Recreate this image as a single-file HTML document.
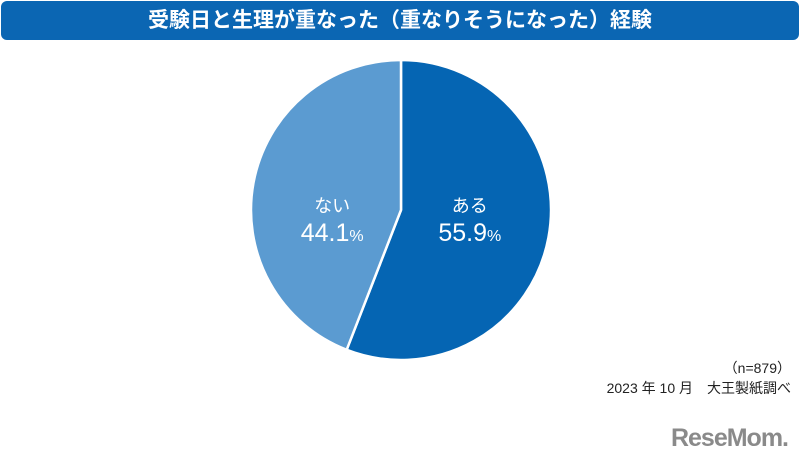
<!DOCTYPE html>
<html><head><meta charset="utf-8"><style>
body{margin:0;width:800px;height:461px;background:#fff;overflow:hidden;font-family:"Liberation Sans","Noto Sans CJK JP",sans-serif;position:relative}
#title{position:absolute;left:1px;top:1px;width:798px;height:39px;background:#0b66b3;border-radius:6px;color:#fff;font-weight:bold;font-size:21px;line-height:39px;text-align:center}
.note{position:absolute;right:9px;font-size:14px;color:#222;text-align:right}
#logo{position:absolute;right:12px;top:424px;font-size:25px;font-weight:bold;color:#8a8a8a;letter-spacing:-1px}
</style></head><body>
<div id="title">受験日と生理が重なった（重なりそうになった）経験</div>
<svg id="pie" width="800" height="461" style="position:absolute;left:0;top:0"></svg>
<div class="note" style="top:358px">（n=879）</div>
<div class="note" style="top:378px">2023 年 10 月　大王製紙調べ</div>
<div id="logo">ReseMom.</div>
<script>
const categories=["ある","ない"];
const values=[55.9,44.1];
const colors=["#0565b3","#5b9bd1"];
const svg=document.getElementById('pie');
const NS="http://www.w3.org/2000/svg";
const cx=401,cy=210,r=150;
const total=values.reduce((a,b)=>a+b,0);
let a0=0;
values.forEach((v,i)=>{
  const a1=a0+v/total*2*Math.PI;
  const p=(a)=>[cx+r*Math.sin(a),cy-r*Math.cos(a)];
  const [x0,y0]=p(a0),[x1,y1]=p(a1);
  const path=document.createElementNS(NS,'path');
  path.setAttribute('d',`M${cx},${cy}L${x0},${y0}A${r},${r} 0 ${a1-a0>Math.PI?1:0} 1 ${x1},${y1}Z`);
  path.setAttribute('fill',colors[i]);
  path.setAttribute('stroke','#fff');
  path.setAttribute('stroke-width','2.5');
  
  
  svg.appendChild(path);
  const am=(a0+a1)/2, lr=70;
  const lx=cx+lr*Math.sin(am), ly=cy;
  const t1=document.createElementNS(NS,'text');
  t1.setAttribute('x',lx);t1.setAttribute('y',ly+2);
  t1.setAttribute('text-anchor','middle');t1.setAttribute('fill','#fff');
  t1.setAttribute('font-size','18');
  t1.textContent=categories[i];
  
  
  svg.appendChild(t1);
  const t2=document.createElementNS(NS,'text');
  t2.setAttribute('x',lx);t2.setAttribute('y',ly+31);
  t2.setAttribute('text-anchor','middle');t2.setAttribute('fill','#fff');
  t2.setAttribute('font-size','25');
  t2.innerHTML=v.toFixed(1)+'<tspan font-size="16">%</tspan>';
  
  
  svg.appendChild(t2);
  a0=a1;
});
</script>
</body></html>
